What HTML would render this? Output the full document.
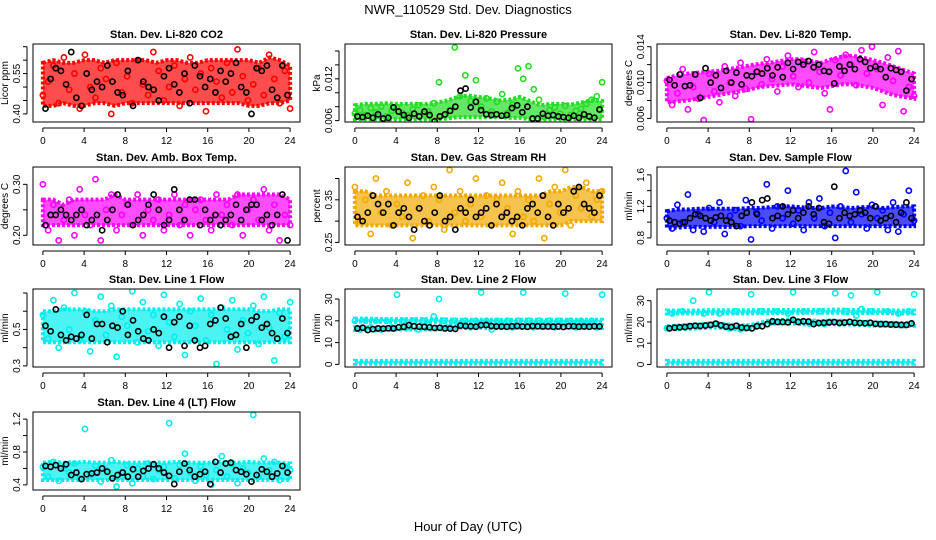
<!DOCTYPE html>
<html><head><meta charset="utf-8"><style>
html,body{margin:0;padding:0;background:#fff;}
svg{display:block;font-family:"Liberation Sans",sans-serif;}
</style></head><body>
<svg id="chart" width="936" height="540" viewBox="0 0 936 540">
<text x="468" y="14" text-anchor="middle" font-size="13">NWR_110529  Std. Dev. Diagnostics</text>
<text x="468" y="531" text-anchor="middle" font-size="13">Hour of Day (UTC)</text>
</svg>
<script>
const hourTicks=[0,4,8,12,16,20,24];
// Panel 1 CO2
const lo1=[0.43,0.43,0.44,0.43,0.43,0.44,0.44,0.43,0.44,0.44,0.44,0.44,0.44,0.44,0.44,0.44,0.44,0.44,0.44,0.44,0.43,0.43,0.44,0.44,0.45];
const hi1=[0.59,0.60,0.59,0.59,0.60,0.60,0.59,0.60,0.60,0.60,0.60,0.59,0.60,0.60,0.59,0.59,0.60,0.60,0.60,0.60,0.60,0.59,0.61,0.60,0.58];
const c1=[0.47,0.52,0.58,0.44,0.61,0.49,0.55,0.42,0.62,0.50,0.46,0.57,0.53,0.40,0.59,0.48,0.54,0.44,0.60,0.51,0.47,0.63,0.56,0.45,0.50,0.58,0.43,0.53,0.61,0.49,0.55,0.41,0.57,0.52,0.46,0.59,0.48,0.64,0.54,0.45,0.51,0.57,0.47,0.62,0.53,0.44,0.56,0.42];
const b1=[0.42,0.53,0.57,0.56,0.51,0.63,0.46,0.43,0.55,0.49,0.52,0.50,0.58,0.52,0.48,0.47,0.56,0.43,0.60,0.52,0.50,0.49,0.45,0.54,0.57,0.51,0.48,0.55,0.44,0.58,0.54,0.50,0.53,0.48,0.56,0.52,0.55,0.59,0.50,0.48,0.40,0.57,0.56,0.58,0.49,0.46,0.58,0.47];
const t1=[0.40,0.45,0.50,0.55,0.60,0.65], l1=["0.40","","","0.55","",""];
// Panel 2 Pressure
const lo2=[.0062,.0062,.0062,.0062,.0062,.0062,.0062,.0062,.0062,.0063,.0065,.0065,.0065,.0065,.0065,.0064,.0064,.0062,.0062,.0062,.0062,.0062,.0062,.0062,.0062];
const hi2=[.0082,.0084,.0084,.0085,.0084,.0084,.0084,.0084,.0086,.0089,.0094,.0096,.0094,.0092,.0089,.0090,.0094,.0088,.0082,.0084,.0084,.0083,.0086,.0089,.0088];
const c2=[.0070,.0075,.0068,.0078,.0072,.0080,.0066,.0074,.0079,.0071,.0068,.0076,.0082,.0070,.0073,.0085,.0115,.0068,.0075,.0165,.0095,.0125,.0088,.0118,.0080,.0092,.0073,.0087,.0098,.0071,.0083,.0135,.0120,.0138,.0105,.0090,.0065,.0075,.0079,.0070,.0081,.0068,.0074,.0077,.0084,.0090,.0095,.0115];
const b2=[.0066,.0065,.0067,.0064,.0069,.0063,.0064,.0079,.0073,.0068,.0064,.0070,.0066,.0073,.0068,.0059,.0066,.0069,.0074,.0080,.0103,.0106,.0079,.0087,.0075,.0069,.0068,.0069,.0067,.0068,.0078,.0082,.0072,.0080,.0063,.0063,.0070,.0067,.0068,.0066,.0065,.0064,.0067,.0064,.0069,.0066,.0064,.0076];
const t2=[0.006,0.008,0.010,0.012,0.014,0.016], l2=["0.006","","","0.012","",""];
// Panel 3 Temp
const lo3=[.0078,.0079,.0080,.0082,.0084,.0086,.0088,.0090,.0092,.0095,.0096,.0097,.0098,.0097,.0095,.0094,.0096,.0098,.0098,.0096,.0094,.0090,.0086,.0084,.0082];
const hi3=[.0105,.0108,.0110,.0111,.0112,.0113,.0115,.0117,.0119,.0121,.0122,.0124,.0126,.0126,.0124,.0122,.0126,.0129,.0130,.0128,.0125,.0122,.0118,.0114,.0110];
const c3=[.0102,.0075,.0088,.0115,.0070,.0095,.0082,.0058,.0110,.0090,.0078,.0118,.0100,.0085,.0122,.0093,.0059,.0112,.0098,.0126,.0104,.0090,.0118,.0130,.0107,.0095,.0123,.0100,.0134,.0112,.0088,.0070,.0125,.0108,.0131,.0120,.0097,.0136,.0110,.0140,.0115,.0075,.0128,.0102,.0135,.0068,.0095,.0085];
const b3=[.0103,.0097,.0109,.0096,.0097,.0109,.0083,.0116,.0100,.0108,.0094,.0113,.0100,.0111,.0098,.0108,.0107,.0112,.0110,.0116,.0108,.0117,.0106,.0122,.0115,.0123,.0120,.0124,.0117,.0120,.0113,.0112,.0099,.0118,.0113,.0120,.0115,.0126,.0123,.0116,.0118,.0115,.0106,.0116,.0114,.0112,.0091,.0104];
const t3=[0.006,0.008,0.010,0.012,0.014], l3=["0.006","","0.010","","0.014"];
// Panel 4 Amb box
const lo4=[.22,.22,.22,.22,.22,.22,.22,.22,.22,.22,.22,.22,.22,.22,.22,.22,.22,.22,.22,.22,.22,.22,.22,.22,.22];
const hi4=[.27,.27,.26,.27,.27,.27,.27,.28,.27,.27,.27,.27,.27,.27,.27,.27,.27,.27,.27,.28,.28,.28,.28,.28,.27];
const c4=[.30,.21,.26,.19,.23,.27,.20,.29,.24,.22,.31,.19,.25,.28,.21,.24,.26,.22,.28,.20,.25,.23,.27,.21,.24,.28,.22,.26,.20,.25,.27,.23,.21,.28,.24,.26,.22,.28,.20,.25,.27,.23,.29,.21,.26,.19,.24,.22];
const b4=[.22,.24,.24,.25,.24,.23,.24,.25,.22,.23,.24,.21,.23,.25,.28,.34,.26,.22,.23,.24,.26,.28,.25,.22,.23,.29,.25,.23,.27,.27,.22,.25,.23,.24,.22,.23,.24,.26,.23,.25,.26,.26,.23,.24,.22,.24,.28,.19];
const t4=[0.20,0.25,0.30], l4=["0.20","","0.30"];
// Panel 5 RH
const lo5=[.29,.29,.29,.29,.29,.29,.29,.29,.29,.29,.29,.29,.29,.29,.29,.29,.29,.29,.29,.29,.29,.30,.30,.30,.30];
const hi5=[.37,.37,.36,.36,.36,.36,.36,.36,.36,.36,.36,.36,.36,.36,.36,.36,.36,.36,.36,.37,.37,.38,.38,.37,.37];
const c5=[.38,.30,.35,.27,.40,.32,.37,.29,.34,.31,.39,.26,.33,.36,.30,.38,.35,.28,.42,.32,.37,.30,.34,.40,.31,.36,.29,.35,.39,.33,.27,.37,.31,.35,.30,.40,.26,.34,.38,.32,.42,.29,.36,.33,.39,.31,.35,.37];
const b5=[.31,.30,.32,.36,.34,.32,.34,.29,.32,.33,.31,.28,.33,.30,.29,.32,.36,.30,.31,.28,.33,.32,.35,.31,.32,.33,.29,.34,.31,.32,.30,.31,.29,.33,.34,.32,.36,.31,.29,.34,.32,.33,.37,.38,.34,.33,.32,.36];
const t5=[0.25,0.30,0.35,0.40], l5=["0.25","","0.35",""];
// Panel 6 Sample flow
const lo6=[0.93,0.93,0.94,0.94,0.94,0.94,0.94,0.94,0.95,0.95,0.95,0.95,0.95,0.95,0.95,0.95,0.95,0.95,0.95,0.95,0.95,0.95,0.95,0.95,0.95];
const hi6=[1.14,1.16,1.16,1.17,1.17,1.17,1.17,1.17,1.18,1.18,1.19,1.20,1.20,1.19,1.18,1.18,1.20,1.19,1.18,1.19,1.19,1.18,1.19,1.20,1.20];
const c6=[1.05,0.92,1.22,1.00,1.35,0.90,1.10,0.88,1.18,1.00,1.25,0.85,1.08,1.15,0.95,1.28,0.78,1.12,1.02,1.48,0.92,1.20,1.05,1.40,0.98,1.15,0.90,1.25,1.05,1.30,0.95,1.12,0.80,1.20,1.65,1.00,1.38,1.10,0.92,1.22,1.05,1.15,0.90,1.25,0.88,1.10,1.40,1.02];
const b6=[1.02,1.00,0.98,1.00,1.05,1.10,1.08,1.05,1.02,1.06,1.08,1.02,1.00,0.95,1.08,1.12,1.25,1.10,1.28,1.30,1.05,1.08,1.20,1.10,1.15,1.05,1.12,1.20,1.10,1.18,1.00,0.98,1.45,1.05,1.12,1.08,1.10,1.15,1.12,1.05,1.20,1.02,1.05,1.08,1.00,1.12,1.25,1.05];
const t6=[0.8,1.0,1.2,1.4,1.6], l6=["0.8","","1.2","","1.6"];
// Panel 7 Line 1
const lo7=[0.43,0.43,0.43,0.43,0.43,0.43,0.43,0.43,0.43,0.43,0.43,0.43,0.43,0.43,0.43,0.43,0.43,0.43,0.43,0.43,0.43,0.43,0.43,0.43,0.43];
const hi7=[0.60,0.60,0.61,0.61,0.61,0.60,0.60,0.61,0.61,0.61,0.61,0.61,0.61,0.61,0.61,0.61,0.61,0.61,0.61,0.61,0.61,0.60,0.60,0.61,0.61];
const c7=[.58,.45,.66,.40,.62,.50,.70,.44,.60,.38,.55,.68,.47,.63,.35,.57,.52,.71,.43,.65,.49,.58,.41,.69,.54,.46,.64,.36,.60,.52,.67,.44,.58,.31,.62,.50,.66,.39,.55,.48,.63,.42,.68,.51,.33,.59,.46,.65];
const b7=[.52,.49,.61,.47,.44,.46,.45,.47,.58,.45,.53,.53,.43,.52,.51,.60,.47,.55,.49,.45,.44,.50,.48,.57,.40,.54,.57,.41,.52,.44,.40,.41,.53,.55,.62,.56,.46,.47,.53,.40,.55,.57,.51,.53,.48,.45,.56,.48];
const t7=[0.3,0.4,0.5,0.6,0.7], l7=["0.3","","0.5","",""];
// Panel 8 Line 2
const lo8a=[19.6,19.6,19.5,19.5,19.5,19.5,19.5,19.5,19.5,19.4,19.3,19.3,19.3,19.3,19.3,19.3,19.3,19.3,19.3,19.3,19.3,19.3,19.3,19.3,19.3];
const hi8a=[21.0,21.0,20.9,20.8,20.8,20.8,20.8,20.8,20.8,20.6,20.5,20.5,20.5,20.5,20.5,20.5,20.5,20.5,20.5,20.5,20.5,20.5,20.5,20.5,20.5];
const lo8b=[0.3,0.3,0.3,0.3,0.3,0.3,0.3,0.3,0.3,0.3,0.3,0.3,0.3,0.3,0.3,0.3,0.3,0.3,0.3,0.3,0.3,0.3,0.3,0.3,0.3];
const hi8b=[1.6,1.6,1.6,1.6,1.6,1.6,1.6,1.6,1.6,1.6,1.6,1.6,1.6,1.6,1.6,1.6,1.6,1.6,1.6,1.6,1.6,1.6,1.6,1.6,1.6];
const lo8c=[15.8,15.8,15.6,15.7,16.0,16.0,16.0,16.0,16.0,16.3,16.8,16.8,16.8,16.7,16.6,16.7,16.8,16.8,16.8,16.8,16.8,16.8,16.8,16.8,16.8];
const hi8c=[17.0,17.0,16.8,17.0,17.4,17.5,17.4,17.4,17.2,17.6,18.2,18.2,18.3,18.0,17.9,18.0,18.0,18.0,18.0,18.0,18.0,18.0,18.0,18.0,18.0];
const c8=[20,16,20,17,20,16,20,17,32,20,17,20,16,20,18,22,30,20,17,20,18,20,17,20,33,20,16,20,18,20,17,20,33,20,17,20,18,20,17,20,32.5,20,17,20,18,20,17,32];
const b8=[16.5,16.8,15.8,16.2,16.5,16.4,16.6,16.5,17.0,17.2,18.0,17.5,17.3,17.2,17.0,16.7,16.8,16.5,16.4,16.3,17.8,17.6,17.5,17.3,18.0,18.1,17.6,17.4,17.4,17.3,17.5,17.6,17.4,17.3,17.6,17.5,17.4,17.4,17.3,17.4,17.2,17.5,17.5,17.3,17.4,17.3,17.5,17.4];
const t8=[0,10,20,30], l8=["0","10","20","30"];
// Panel 9 Line 3
const lo9a=[24.0,24.0,24.0,24.0,24.0,24.0,24.0,24.0,24.0,24.1,24.2,24.3,24.3,24.3,24.3,24.3,24.3,24.3,24.2,24.2,24.2,24.2,24.0,24.0,24.0];
const hi9a=[25.4,25.4,25.3,25.4,25.5,25.5,25.5,25.5,25.5,25.6,25.6,25.6,25.6,25.6,25.6,25.6,25.8,25.8,25.6,25.6,25.5,25.5,25.4,25.3,25.3];
const lo9b=[0.3,0.3,0.3,0.3,0.3,0.3,0.3,0.3,0.3,0.3,0.3,0.3,0.3,0.3,0.3,0.3,0.3,0.3,0.3,0.3,0.3,0.3,0.3,0.3,0.3];
const hi9b=[1.7,1.7,1.7,1.7,1.7,1.7,1.7,1.7,1.7,1.7,1.7,1.7,1.7,1.7,1.7,1.7,1.7,1.7,1.7,1.7,1.7,1.7,1.7,1.7,1.7];
const lo9c=[16.5,16.6,16.8,17.0,17.3,17.3,16.8,16.6,16.6,17.6,19.2,19.3,19.3,19.0,18.5,18.8,19.0,18.8,18.8,18.5,18.3,18.2,18.0,18.0,18.2];
const hi9c=[18.0,18.2,18.6,18.8,19.3,19.3,18.8,18.4,18.5,19.5,20.8,20.8,21.2,20.8,20.2,20.4,20.6,20.4,20.4,20.0,19.8,19.6,19.5,19.4,19.8];
const c9=[17,24,17.5,25,18,30,18,24,34,19,24,18,17,25,16.5,17,33,18,25,19,20,25,20,24,34,20,25,19.5,20,25,19,20,33.5,20,25,32.5,23,26,19.5,25,34,19,25,19,24,18.5,25,33];
const b9=[17.0,17.3,17.5,17.6,18.0,18.2,18.1,18.3,18.6,19.2,18.4,17.8,17.6,18.2,17.4,17.2,17.0,18.0,18.0,19.0,20.3,20.0,20.0,19.8,21.0,20.0,20.3,20.2,19.0,19.5,19.6,19.8,19.9,19.5,19.7,20.0,19.6,19.5,19.4,19.6,19.1,19.0,19.0,18.8,18.7,18.6,18.6,19.3];
const t9=[0,10,20,30], l9=["0","10","20","30"];
// Panel 10 Line 4
const lo10=[0.46,0.46,0.46,0.46,0.46,0.46,0.46,0.46,0.46,0.46,0.46,0.46,0.46,0.46,0.46,0.46,0.46,0.46,0.46,0.46,0.46,0.46,0.46,0.46,0.46];
const hi10=[0.67,0.68,0.67,0.67,0.68,0.67,0.67,0.68,0.67,0.67,0.67,0.67,0.67,0.68,0.67,0.67,0.67,0.68,0.67,0.67,0.68,0.67,0.67,0.67,0.66];
const c10=[0.62,0.50,0.68,0.45,0.60,0.55,0.66,0.48,1.08,0.52,0.63,0.44,0.58,0.70,0.38,0.55,0.64,0.42,0.60,0.50,0.66,0.47,0.58,0.62,1.15,0.48,0.64,0.78,0.55,0.45,0.62,0.52,0.40,0.58,0.75,0.50,0.65,0.42,0.60,0.55,1.25,0.50,0.72,0.58,0.68,0.46,0.62,0.58];
const b10=[0.63,0.62,0.64,0.60,0.65,0.52,0.55,0.47,0.53,0.54,0.55,0.60,0.56,0.48,0.52,0.55,0.50,0.59,0.50,0.57,0.60,0.65,0.60,0.55,0.51,0.41,0.56,0.66,0.58,0.50,0.53,0.56,0.41,0.68,0.55,0.66,0.67,0.58,0.56,0.53,0.44,0.52,0.59,0.56,0.50,0.54,0.63,0.55];
const t10=[0.4,0.6,0.8,1.0,1.2], l10=["0.4","","0.8","","1.2"];

const panels=[
 {name:"co2",title:"Stan. Dev. Li-820 CO2",yt:"Licor ppm",col:0,row:0,ylim:[0.37,0.66],color:"#ff0000",bands:[[lo1,hi1]],c:c1,b:b1,t:t1,l:l1},
 {name:"pressure",title:"Stan. Dev. Li-820 Pressure",yt:"kPa",col:1,row:0,ylim:[0.0058,0.0170],color:"#22dd22",bands:[[lo2,hi2]],c:c2,b:b2,t:t2,l:l2},
 {name:"temp",title:"Stan. Dev. Li-820 Temp.",yt:"degrees C",col:2,row:0,ylim:[0.0056,0.0143],color:"#ff00ff",bands:[[lo3,hi3]],c:c3,b:b3,t:t3,l:l3},
 {name:"amb-box-temp",title:"Stan. Dev. Amb. Box Temp.",yt:"degrees C",col:0,row:1,ylim:[0.181,0.334],color:"#ff00ff",bands:[[lo4,hi4]],c:c4,b:b4,t:t4,l:l4},
 {name:"gas-stream-rh",title:"Stan. Dev. Gas Stream RH",yt:"percent",col:1,row:1,ylim:[0.244,0.427],color:"#f2a900",bands:[[lo5,hi5]],c:c5,b:b5,t:t5,l:l5},
 {name:"sample-flow",title:"Stan. Dev. Sample Flow",yt:"ml/min",col:2,row:1,ylim:[0.71,1.70],color:"#0000ff",bands:[[lo6,hi6]],c:c6,b:b6,t:t6,l:l6},
 {name:"line1-flow",title:"Stan. Dev. Line 1 Flow",yt:"ml/min",col:0,row:2,ylim:[0.294,0.722],color:"#00eeee",bands:[[lo7,hi7]],c:c7,b:b7,t:t7,l:l7},
 {name:"line2-flow",title:"Stan. Dev. Line 2 Flow",yt:"ml/min",col:1,row:2,ylim:[-1.2,34.6],color:"#00eeee",bands:[[lo8a,hi8a],[lo8b,hi8b],[lo8c,hi8c]],c:c8,b:b8,t:t8,l:l8},
 {name:"line3-flow",title:"Stan. Dev. Line 3 Flow",yt:"ml/min",col:2,row:2,ylim:[-1.2,35.5],color:"#00eeee",bands:[[lo9a,hi9a],[lo9b,hi9b],[lo9c,hi9c]],c:c9,b:b9,t:t9,l:l9},
 {name:"line4-flow",title:"Stan. Dev. Line 4 (LT) Flow",yt:"ml/min",col:0,row:3,ylim:[0.338,1.286],color:"#00eeee",bands:[[lo10,hi10]],c:c10,b:b10,t:t10,l:l10}
];
const NS="http://www.w3.org/2000/svg";
const svg=document.getElementById('chart');
function mk(tag,attrs,parent){const e=document.createElementNS(NS,tag);for(const k in attrs)e.setAttribute(k,attrs[k]);parent.appendChild(e);return e;}
const rowTops=[44,167,289,412], colLefts=[33,345,657], W=267, H=78;
panels.forEach(p=>{
  const L=colLefts[p.col], T=rowTops[p.row];
  const g=mk('g',{},svg);
  
  
  const xs=h=>L+(h+0.96)/25.92*W;
  const ys=v=>T+H-(v-p.ylim[0])/(p.ylim[1]-p.ylim[0])*H;
  const cl=mk('clipPath',{id:'clip-'+p.name},g);
  mk('rect',{x:L,y:T,width:W,height:H},cl);
  const plot=mk('g',{'clip-path':'url(#clip-'+p.name+')'},g);
  p.bands.forEach((bd,bi)=>{
    let pts=[];
    bd[1].forEach((v,i)=>pts.push(xs(i)+','+ys(v)));
    for(let i=bd[0].length-1;i>=0;i--)pts.push(xs(i)+','+ys(bd[0][i]));
    const poly=mk('polygon',{points:pts.join(' '),fill:p.color,'fill-opacity':0.7,stroke:p.color,'stroke-width':4,'stroke-dasharray':'3 2'},plot);
    
    
  });
  p.c.forEach((v,i)=>{
    const c=mk('circle',{cx:xs(i*24/(p.c.length-1)),cy:ys(v),r:2.6,fill:'none',stroke:p.color,'stroke-width':1.6},plot);
    
    
  });
  p.b.forEach((v,i)=>{
    const c=mk('circle',{cx:xs((i+0.5)/2),cy:ys(v),r:2.6,fill:'none',stroke:'#000','stroke-width':1.6},plot);
    
    
  });
  const fr=mk('rect',{x:L,y:T,width:W,height:H,fill:'none',stroke:'#000','stroke-width':1},g);
  
  
  const tt=mk('text',{x:L+W/2,y:T-6,'text-anchor':'middle','font-size':11,'font-weight':'bold'},g);
  tt.textContent=p.title;
  
  
  const xa=mk('g',{},g);
  
  
  mk('line',{x1:xs(0),x2:xs(24),y1:T+H+6,y2:T+H+6,stroke:'#000'},xa);
  hourTicks.forEach(h=>{
    mk('line',{x1:xs(h),x2:xs(h),y1:T+H+6,y2:T+H+10,stroke:'#000'},xa);
    const tx=mk('text',{x:xs(h),y:T+H+22,'text-anchor':'middle','font-size':10},xa);
    tx.textContent=h;
  });
  const ya=mk('g',{},g);
  
  
  const tin=p.t.filter(v=>v>=p.ylim[0]&&v<=p.ylim[1]);
  mk('line',{x1:L-6,x2:L-6,y1:ys(tin[0]),y2:ys(tin[tin.length-1]),stroke:'#000'},ya);
  p.t.forEach((v,i)=>{
    if(v<p.ylim[0]||v>p.ylim[1])return;
    mk('line',{x1:L-10,x2:L-6,y1:ys(v),y2:ys(v),stroke:'#000'},ya);
    if(p.l[i]){const tx=mk('text',{x:0,y:0,'text-anchor':'middle','font-size':10,transform:`translate(${L-13},${ys(v)}) rotate(-90)`},ya);tx.textContent=p.l[i];}
  });
  const yl=mk('text',{x:0,y:0,'text-anchor':'middle','font-size':10,transform:`translate(${L-25},${T+H/2}) rotate(-90)`},g);
  yl.textContent=p.yt;
  
  
});
</script>
</body></html>
